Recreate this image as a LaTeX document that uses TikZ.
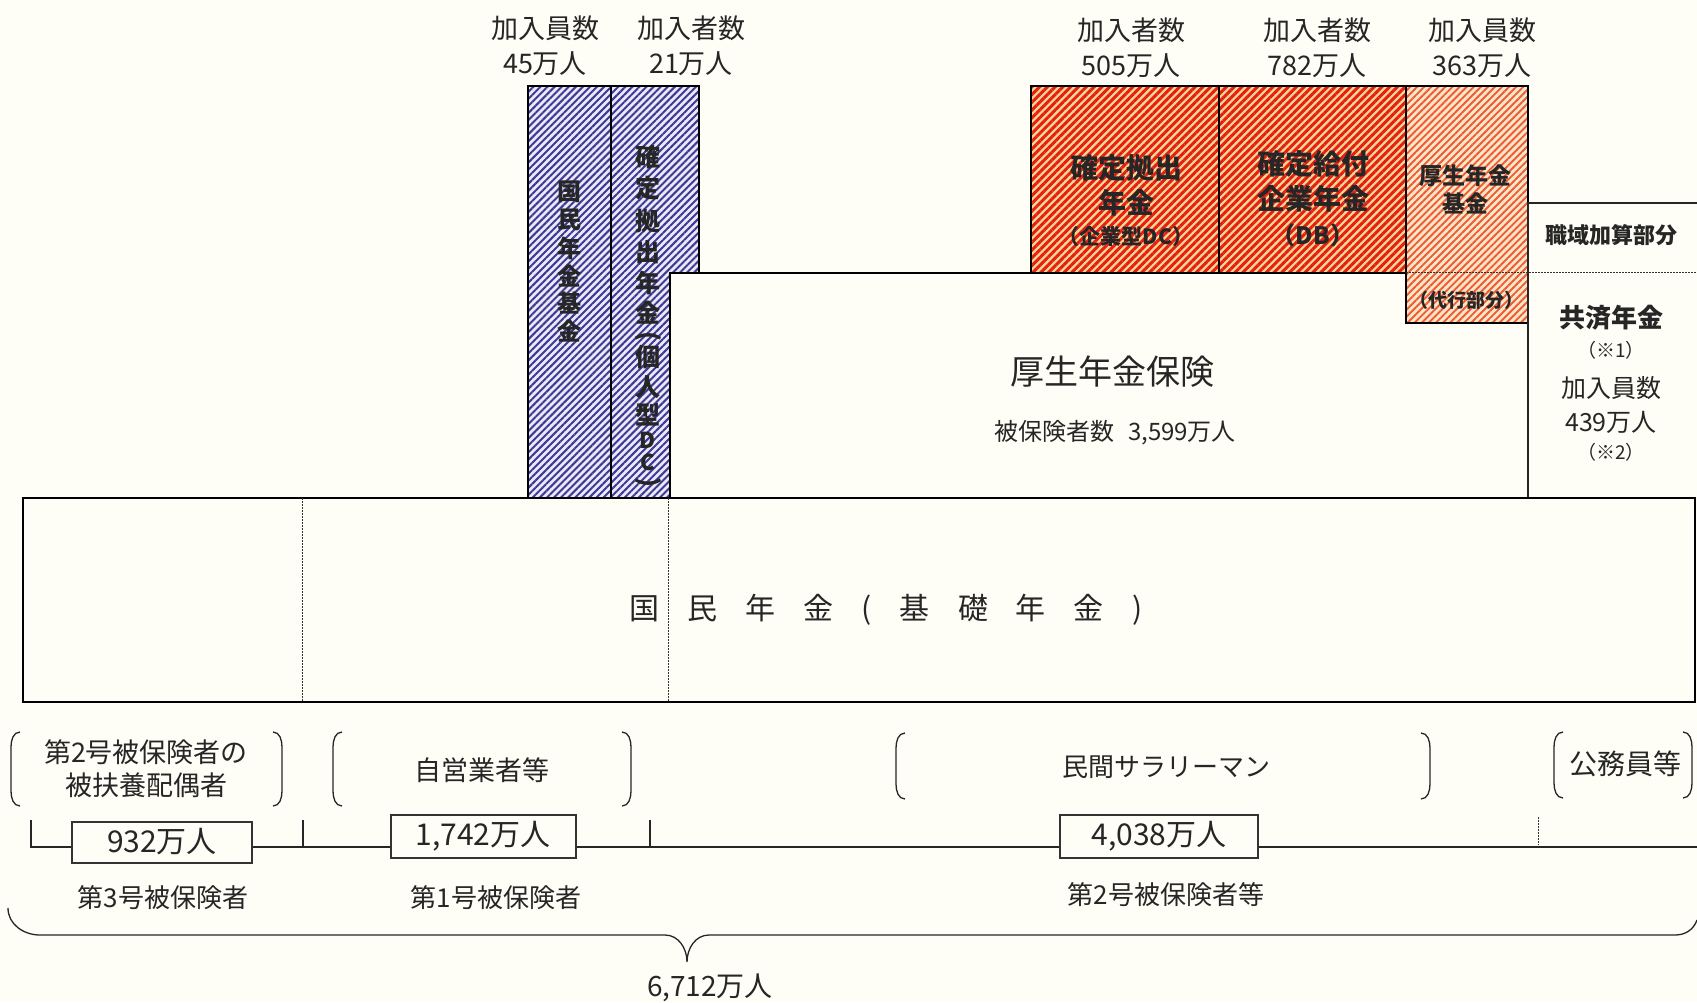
\documentclass[tikz,border=0pt]{standalone}
\usepackage{fontspec}
\usepackage{graphicx}
\setmainfont{Noto Sans CJK JP}
\usetikzlibrary{patterns.meta}
\definecolor{bg}{HTML}{FFFEF6}
\definecolor{bluehatch}{HTML}{3C3A96}
\definecolor{bluebg}{HTML}{ECE8F6}
\definecolor{redhatch}{HTML}{E61E1A}
\definecolor{redbg}{HTML}{FAD98A}
\definecolor{orhatch}{HTML}{EE5A34}
\definecolor{orbg}{HTML}{FCE6C8}
\newcommand\kgap{\hspace{28pt}}
\newcommand\fs[2]{\fontsize{#1}{#2}\selectfont}
\newcommand\vlp{\rotatebox{-90}{(}}
\newcommand\vrp{\rotatebox{-90}{)}}
\tikzset{
  hatchblue/.style={preaction={fill=bluebg}, pattern={Lines[angle=45,distance=5pt,line width=2pt]}, pattern color=bluehatch, draw=black, line width=1.2pt},
  hatchred/.style={preaction={fill=redbg}, pattern={Lines[angle=45,distance=5.5pt,line width=3pt]}, pattern color=redhatch, draw=black, line width=1.2pt},
  hatchor/.style={preaction={fill=orbg}, pattern={Lines[angle=45,distance=5pt,line width=1.9pt]}, pattern color=orhatch, draw=black, line width=1.2pt},
  plainbox/.style={fill=bg, draw=black, line width=1.4pt},
  lbl/.style={inner sep=0pt, align=center, text=black!85},
  vch/.style={inner sep=0pt, text=black!85, font=\bfseries\fs{25}{30}},
  numbox/.style={fill=bg, draw=black!80, line width=1.2pt},
  thin/.style={draw=black!85, line width=1.1pt},
  dotline/.style={draw=black!80, line width=1pt, dash pattern=on 1.5pt off 1.5pt},
}
\begin{document}
\begin{tikzpicture}[x=1pt,y=-1pt]
\useasboundingbox (0,0) rectangle (1697,1002);
\fill[bg] (0,0) rectangle (1697,1002);

% upper blue boxes
\draw[hatchblue] (528,86) rectangle (611,498);
\draw[hatchblue] (611,86) rectangle (699,498);
% Kosei nenkin hoken
\draw[plainbox] (670,273) rectangle (1528,498);
% red boxes
\draw[hatchred] (1031,86) rectangle (1219,273);
\draw[hatchred] (1219,86) rectangle (1406,273);
\draw[hatchor] (1406,86) rectangle (1528,323);
% kyosai
\draw[thin, line width=1.4pt] (1528,498) -- (1528,203) -- (1697,203);
\draw[dotline] (1406,272) -- (1697,272);
% national pension
\draw[plainbox, line width=1.6pt] (23,498) rectangle (1695,702);
\draw[dotline] (302,498) -- (302,702);
\draw[dotline] (668,498) -- (668,702);

% top labels
\node[lbl, font=\fs{27}{35}] (t1) at (545,46) {加入員数\\45万人};
\node[lbl, font=\fs{27}{35}] (t2) at (691,46) {加入者数\\21万人};
\node[lbl, font=\fs{27}{35}] (t3) at (1131,48) {加入者数\\505万人};
\node[lbl, font=\fs{27}{35}] (t4) at (1317,48) {加入者数\\782万人};
\node[lbl, font=\fs{27}{35}] (t5) at (1482,48) {加入員数\\363万人};

% vertical texts
\foreach \ch/\yy [count=\i] in {国/192,民/220,年/248,金/276,基/303,金/331}
  \node[vch, font=\bfseries\fs{24}{28}] (va\i) at (569,\yy) {\ch};
\foreach \ch/\yy [count=\i] in {確/157,定/188,拠/221,出/252,年/283,金/313,\vlp/336,個/357,人/387,型/415}
  \node[vch] (vb\i) at (648,\yy) {\ch};
\node[vch, font=\bfseries\fs{22}{26}] (vbD) at (648,440) {D};
\node[vch, font=\bfseries\fs{22}{26}] (vbC) at (648,462) {C};
\node[vch] (vbR) at (648,482) {\vrp};

% red box texts
\node[lbl, font=\bfseries\fs{28}{35}] (r1) at (1126,185) {確定拠出\\年金};
\node[lbl, font=\bfseries\fs{21}{26}] (r1b) at (1126,237) {（企業型DC）};
\node[lbl, font=\bfseries\fs{28}{35}] (r2) at (1313,181) {確定給付\\企業年金};
\node[lbl, font=\bfseries\fs{24}{28}] (r2b) at (1313,235) {（DB）};
\node[lbl, font=\bfseries\fs{23}{28}] (r3) at (1465,189) {厚生年金\\基金};
\node[lbl, font=\bfseries\fs{19}{24}] (r3b) at (1466,300) {（代行部分）};

% kyosai texts
\node[lbl, font=\bfseries\fs{22}{26}] (k1) at (1611,235) {職域加算部分};
\node[lbl, font=\bfseries\fs{26}{30}] (k2) at (1611,318) {共済年金};
\node[lbl, font=\fs{19}{24}] (k3) at (1611,350) {（※1）};
\node[lbl, font=\fs{25}{34}] (k4) at (1611,405) {加入員数\\439万人};
\node[lbl, font=\fs{19}{24}] (k5) at (1611,452) {（※2）};

% kosei texts
\node[lbl, font=\fs{34}{40}] (h1) at (1112,372) {厚生年金保険};
\node[lbl, font=\fs{24}{30}] (h2) at (1115,433) {被保険者数\hspace{14pt}3,599万人};

% national pension text
\node[lbl, font=\fs{30}{36}] (n1) at (886,610) {国\kgap 民\kgap 年\kgap 金\kgap (\kgap 基\kgap 礎\kgap 年\kgap 金\kgap )};

% brackets
\foreach \a/\b/\t/\u in {11/282/732/806, 333/631/732/806, 896/1430/733/799, 1554/1692/732/798}{
  \draw[thin, line width=1.3pt] (\a+9,\t) to[out=180,in=90] (\a,\t+15) -- (\a,\u-15) to[out=-90,in=180] (\a+9,\u);
  \draw[thin, line width=1.3pt] (\b-9,\t) to[out=0,in=90] (\b,\t+15) -- (\b,\u-15) to[out=-90,in=0] (\b-9,\u);
}
\node[lbl, font=\fs{27}{33}] (g1) at (146,769) {第2号被保険者の\\被扶養配偶者};
\node[lbl, font=\fs{27}{33}] (g2) at (482,770) {自営業者等};
\node[lbl, font=\fs{26}{32}] (g3) at (1166,767) {民間サラリーマン};
\node[lbl, font=\fs{28}{32}] (g4) at (1625,764) {公務員等};

% count line
\draw[thin] (31,820) -- (31,847) -- (1697,847);
\draw[thin] (303,820) -- (303,847);
\draw[thin] (650,820) -- (650,847);
\draw[dotline] (1538,817) -- (1538,845);
\draw[numbox] (72,822) rectangle (252,863);
\draw[numbox] (391,815) rectangle (576,858);
\draw[numbox] (1060,815) rectangle (1258,858);
\node[lbl, font=\fs{30}{34}] (c1) at (162,842) {932万人};
\node[lbl, font=\fs{30}{34}] (c2) at (483,836) {1,742万人};
\node[lbl, font=\fs{30}{34}] (c3) at (1159,836) {4,038万人};
\node[lbl, font=\fs{26}{30}] (d1) at (163,898) {第3号被保険者};
\node[lbl, font=\fs{26}{30}] (d2) at (496,898) {第1号被保険者};
\node[lbl, font=\fs{26}{30}] (d3) at (1166,895) {第2号被保険者等};

% brace
\draw[thin, line width=1.3pt] (8,908) to[out=-90,in=180] (40,935) -- (665,935) to[out=0,in=90] (687,962) to[out=90,in=180] (709,935) -- (1675,935) to[out=0,in=-110] (1697,920);
\node[lbl, font=\fs{28}{32}] (tot) at (710,988) {6,712万人};
\end{tikzpicture}
\end{document}
